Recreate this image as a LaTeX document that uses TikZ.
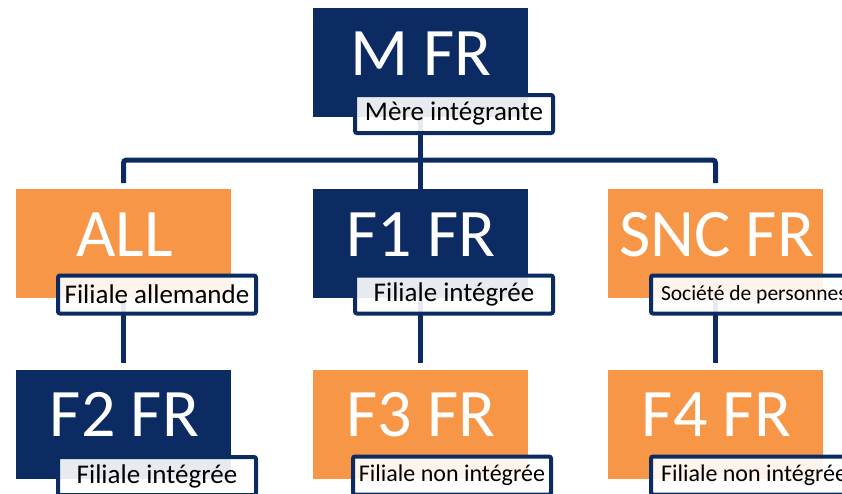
\documentclass[tikz,border=0pt]{standalone}
\usepackage{fontspec}
\setmainfont{Carlito}
\definecolor{navy}{RGB}{12,43,99}
\definecolor{orng}{RGB}{247,150,70}
\begin{document}
\begin{tikzpicture}[x=1pt,y=-1pt,
  box/.style={rectangle, minimum width=215pt, minimum height=109pt, inner sep=0pt, outer sep=0pt},
  navybox/.style={box, fill=navy},
  orbox/.style={box, fill=orng},
  title/.style={anchor=base, text=white, font=\fontsize{68}{68}\selectfont, inner sep=0pt},
  lab/.style={rectangle, draw=navy, line width=4pt, fill=white, fill opacity=0.9, text opacity=1,
    rounded corners=2pt, minimum width=198pt, minimum height=38pt, inner sep=0pt,
    font=\fontsize{27}{28}\selectfont},
  labsmall/.style={lab, font=\fontsize{24}{26}\selectfont},
  labtiny/.style={lab, font=\fontsize{21.5}{23}\selectfont},
  conn/.style={draw=navy, line width=5pt}
]
\clip (0,0) rectangle (842,493);
\fill[white] (0,0) rectangle (842,493);
% boxes
\node[navybox] (mfr) at (420,62.5) {};
\node[orbox]   (all) at (123.5,243.5) {};
\node[navybox] (f1)  at (420,243.5) {};
\node[orbox]   (snc) at (715.5,243.5) {};
\node[navybox] (f2)  at (123.5,424) {};
\node[orbox]   (f3)  at (420,424) {};
\node[orbox]   (f4)  at (715.5,424) {};
% connectors
\coordinate (bar) at (420,160);
\draw[conn] (mfr.center) -- (f1.north);
\draw[conn, rounded corners=3pt, shorten <=6pt, shorten >=6pt]
  (all.north) -- (all.north |- bar) -- (snc.north |- bar) -- (snc.north);
\draw[conn, shorten >=7pt] (all.center) -- (f2.north);
\draw[conn, shorten >=7pt] (f1.center) -- (f3.north);
\draw[conn, shorten >=7pt] (snc.center) -- (f4.north);
% redraw boxes over connector starts
\fill[navy] (mfr.north west) rectangle (mfr.south east);
\fill[orng] (all.north west) rectangle (all.south east);
\fill[navy] (f1.north west) rectangle (f1.south east);
\fill[orng] (snc.north west) rectangle (snc.south east);
% titles
\node[title] (tmfr) at (421,75) {M FR};
\node[title] (tall) at (124.5,256) {ALL};
\node[title] (tf1)  at (421,256) {F1 FR};
\node[title] (tsnc) at (716.5,256) {SNC FR};
\node[title] (tf2)  at (124.5,436) {F2 FR};
\node[title] (tf3)  at (421,436) {F3 FR};
\node[title] (tf4)  at (716.5,436) {F4 FR};
% labels
\node[lab] (lmfr) at (454,114) {Mère intégrante};
\node[lab] (lall) at (157,294.5) {Filiale allemande};
\node[lab] (lf1)  at (454,294.5) {Filiale intégrée};
\node[labtiny, anchor=west] (lsnc) at (649,294.5) {\makebox[196pt][l]{\hspace*{9pt}Société de personnes}};
\node[lab] (lf2)  at (157,476) {Filiale intégrée};
\node[labsmall] (lf3) at (452,475.5) {Filiale non intégrée};
\node[labsmall, anchor=west] (lf4) at (649,475.5) {\makebox[196pt][l]{\hspace*{9pt}Filiale non intégrée}};
\end{tikzpicture}
\end{document}
